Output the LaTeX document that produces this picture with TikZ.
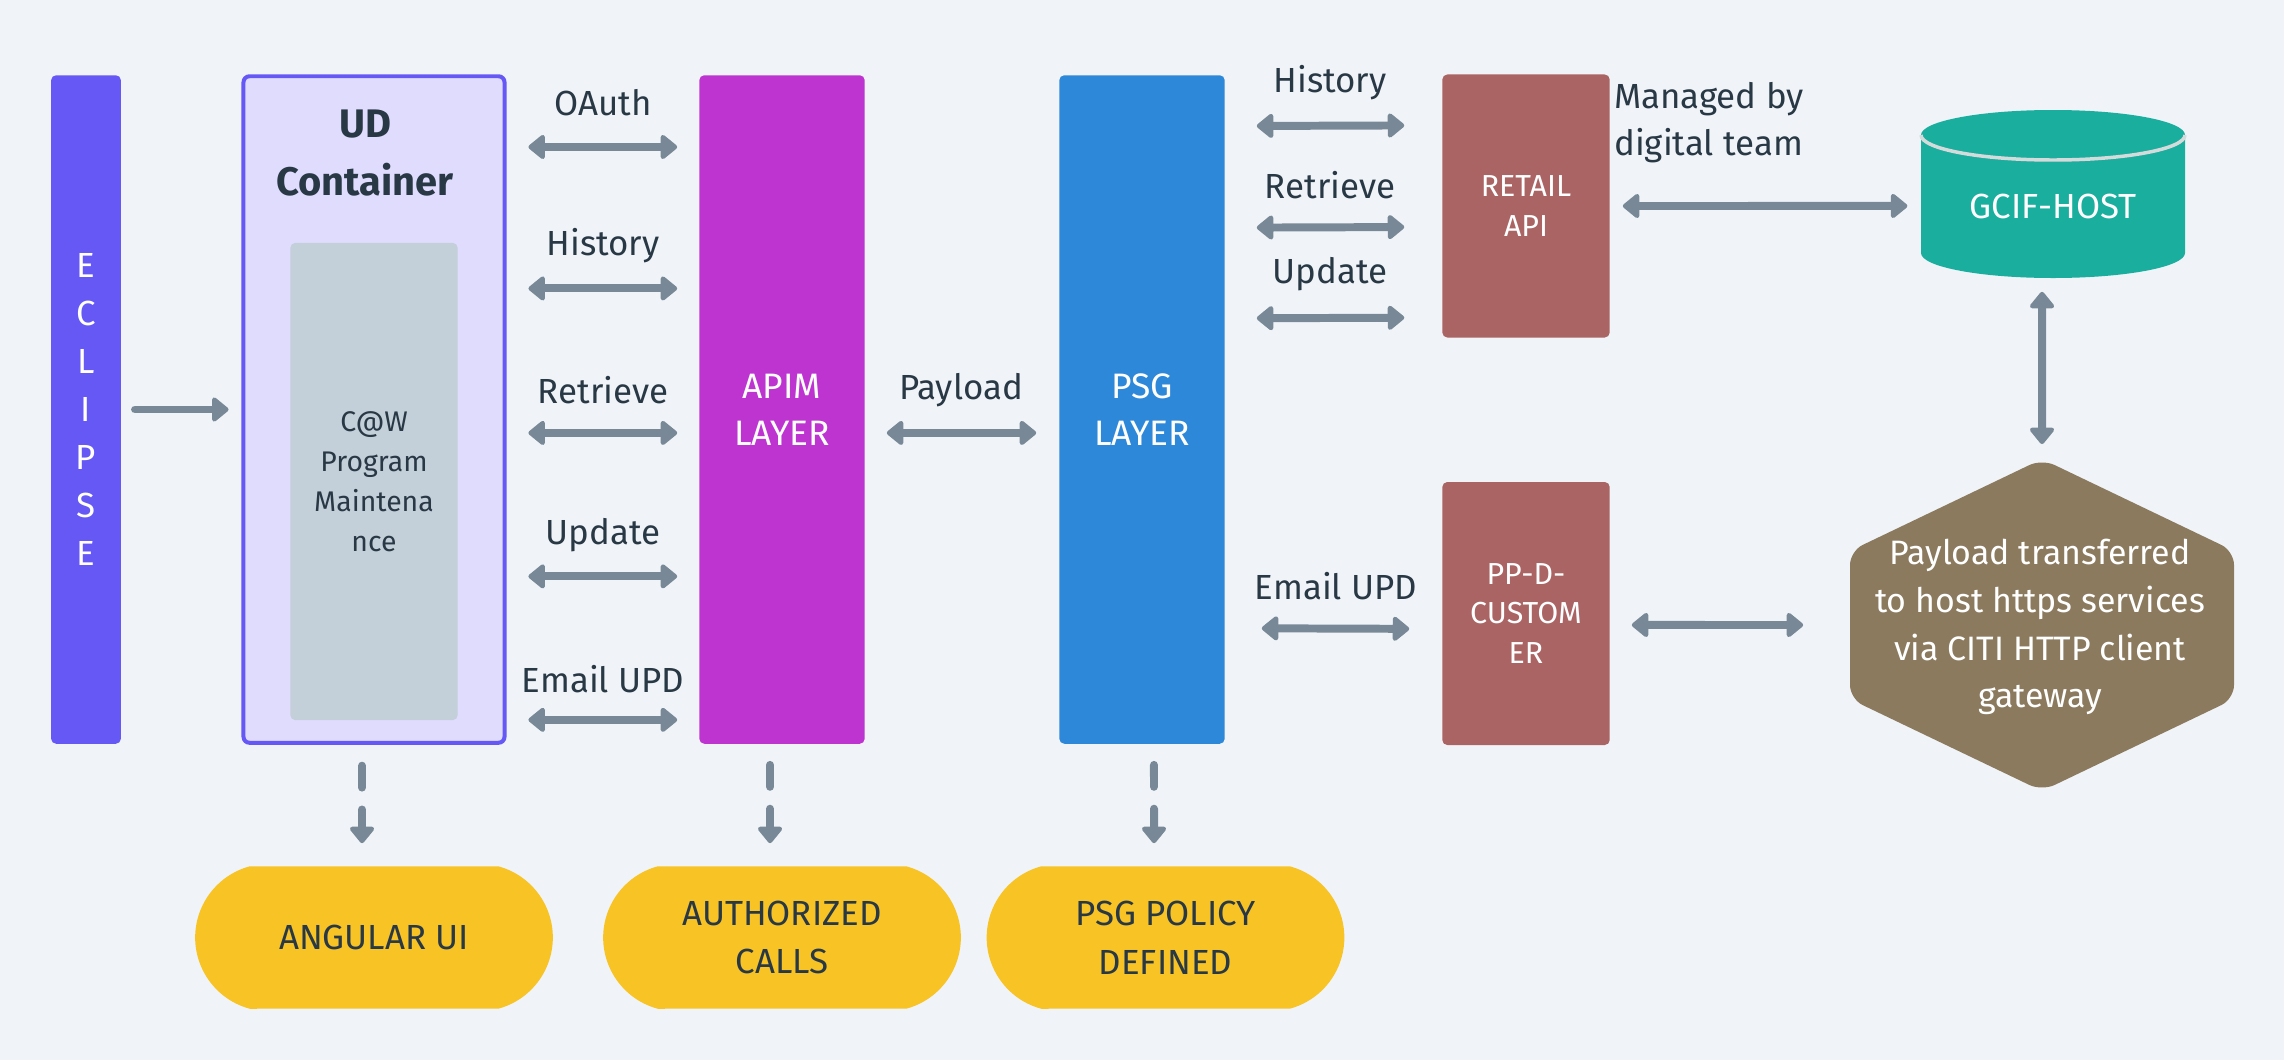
\documentclass[tikz,border=0pt]{standalone}
\usepackage{fontspec}
\setmainfont{Fira Sans}
\usetikzlibrary{arrows.meta,shapes.misc}
\definecolor{bgcol}{HTML}{F0F4F8}
\definecolor{eclcol}{HTML}{6558F5}
\definecolor{udfill}{HTML}{E0DCFD}
\definecolor{innercol}{HTML}{C3CFD9}
\definecolor{apimcol}{HTML}{BD34D1}
\definecolor{psgcol}{HTML}{2D88D9}
\definecolor{redcol}{HTML}{AA6464}
\definecolor{gcifcol}{HTML}{1AAE9F}
\definecolor{cylline}{HTML}{D5DBDB}
\definecolor{hexcol}{HTML}{8B7A5E}
\definecolor{yelcol}{HTML}{F7C325}
\definecolor{arrcol}{HTML}{788896}
\definecolor{txtcol}{HTML}{293845}
\tikzset{
  tallbox/.style={rectangle, rounded corners=5, inner sep=0, minimum width=166, minimum height=671, text=white, align=center, font=\fontsize{35.5}{47}\selectfont},
  redbox/.style={rectangle, rounded corners=5, inner sep=0, fill=redcol, minimum width=168, minimum height=264, text=white, align=center, font=\fontsize{30.5}{40}\selectfont},
  lbl/.style={text=txtcol, align=center, inner sep=0, font=\fontsize{35}{47}\selectfont},
  pill/.style={rounded rectangle, rounded rectangle arc length=150, fill=yelcol, minimum width=359, minimum height=143, inner sep=0, text=txtcol, align=center, font=\fontsize{35}{49}\selectfont},
  darr/.style={draw=arrcol, line width=8, {Triangle[length=18,width=28,round]}-{Triangle[length=18,width=28,round]}},
  sarr/.style={draw=arrcol, line width=8, line cap=round, -{Triangle[length=18,width=28,round]}},
  dasharr/.style={draw=arrcol, line width=8, line cap=round, dash pattern=on 22 off 22 on 200, -{Triangle[length=18,width=28,round]}},
}
\begin{document}
\begin{tikzpicture}[x=1bp,y=-1bp]
\fill[bgcol] (0,0) rectangle (2284,1060);
\useasboundingbox (0,0) rectangle (2284,1060);

% tall boxes
\node[tallbox, fill=eclcol, minimum width=70] (ecl) at (86,409.5) {};
\node[text=white, align=center, inner sep=0, font=\fontsize{35}{48.2}\selectfont] (ecltext) at (86,409.5) {E\\C\\L\\I\\P\\S\\E};
\node[rectangle, rounded corners=6, draw=eclcol, line width=4, fill=udfill, minimum width=262, minimum height=669, inner sep=0] (ud) at (374,409.5) {};
\node[text=txtcol, align=center, inner sep=0, font=\bfseries\fontsize{40}{58}\selectfont] (udtitle) at (365,153) {UD\\Container};
\node[rectangle, rounded corners=5, fill=innercol, minimum width=168, minimum height=479, inner sep=0, text=txtcol, align=center, font=\fontsize{28.5}{40}\selectfont] (cow) at (374,481.5) {C@W\\Program\\Maintena\\nce};
\node[tallbox, fill=apimcol] (apim) at (782,409.5) {APIM\\LAYER};
\node[tallbox, fill=psgcol] (psg) at (1142,409.5) {PSG\\LAYER};
\node[redbox] (retail) at (1526,206) {RETAIL\\API};
\node[redbox] (ppd) at (1526,613.5) {PP-D-\\CUSTOM\\ER};

% cylinder
\node[minimum width=264, minimum height=168, inner sep=0] (gcif) at (2053,194) {};
\fill[gcifcol] (1921,135) arc[start angle=180,end angle=360,x radius=132,y radius=25] -- (2185,253) arc[start angle=0,end angle=180,x radius=132,y radius=25] -- cycle;
\draw[cylline, line width=3.5] (1921,135) arc[start angle=180,end angle=0,x radius=132,y radius=25];
\node[text=white, inner sep=0, font=\fontsize{35}{42}\selectfont] (gciftext) at (2053,206) {GCIF-HOST};

% hexagon
\coordinate (hexN) at (2042,459);
\coordinate (hexNE) at (2234,551);
\coordinate (hexSE) at (2234,699);
\coordinate (hexS) at (2042,791);
\coordinate (hexSW) at (1850,699);
\coordinate (hexNW) at (1850,551);
\coordinate (hexW) at (1850,625);
\fill[hexcol, rounded corners=14] (1946,505) -- (hexN) -- (hexNE) -- (hexSE) -- (hexS) -- (hexSW) -- (hexNW) -- cycle;
\node[text=white, align=center, inner sep=0, font=\fontsize{34}{48}\selectfont] (hex) at (2040,627) {Payload transferred\\to host https services\\via CITI HTTP client\\gateway};

% pills
\node[pill] (ang) at (374,937.5) {ANGULAR UI};
\node[pill] (auth) at (782,937.5) {AUTHORIZED\\CALLS};
\node[pill] (pol) at (1165.5,937.5) {PSG POLICY\\DEFINED};

% labels
\node[lbl] (l1) at (603,103) {OAuth};
\node[lbl] (l2) at (603,246) {History};
\node[lbl] (l3) at (603,390) {Retrieve};
\node[lbl] (l4) at (603,535) {Update};
\node[lbl] (l5) at (603,679) {Email UPD};
\node[lbl] (l6) at (961,390) {Payload};
\node[lbl] (l7) at (1330,83) {History};
\node[lbl] (l8) at (1330,185) {Retrieve};
\node[lbl] (l9) at (1330,274) {Update};
\node[lbl] (l10) at (1336,586) {Email UPD};
\node[lbl, align=left, anchor=west] (l11) at (1614,122.5) {Managed by\\digital team};

% connectors
\draw[sarr, shorten <=14, shorten >=13] (ecl.east) -- (ud.west);
\draw[darr, shorten <=22, shorten >=22] ([yshift=263.5]ud.east) -- ([yshift=263.5]apim.west);
\draw[darr, shorten <=22, shorten >=22] ([yshift=121.5]ud.east) -- ([yshift=121.5]apim.west);
\draw[darr, shorten <=22, shorten >=22] ([yshift=-23.5]ud.east) -- ([yshift=-23.5]apim.west);
\draw[darr, shorten <=22, shorten >=22] ([yshift=-167.5]ud.east) -- ([yshift=-167.5]apim.west);
\draw[darr, shorten <=22, shorten >=22] ([yshift=-311.5]ud.east) -- ([yshift=-311.5]apim.west);
\draw[darr, shorten <=22, shorten >=23] ([yshift=-23.5]apim.east) -- ([yshift=-23.5]psg.west);
\draw[darr, shorten <=32, shorten >=38] ([yshift=284.5]psg.east) -- ([yshift=81]retail.west);
\draw[darr, shorten <=32, shorten >=38] ([yshift=182.5]psg.east) -- ([yshift=-21]retail.west);
\draw[darr, shorten <=32, shorten >=38] ([yshift=91.5]psg.east) -- ([yshift=-112]retail.west);
\draw[darr, shorten <=37, shorten >=33] ([yshift=-219.5]psg.east) -- ([yshift=-15.5]ppd.west);
\draw[darr, shorten <=13, shorten >=14] (retail.east) -- ([yshift=-12]gcif.west);
\draw[darr, shorten <=14, shorten >=15] ([xshift=-11]gcif.south) -- (hexN);
\draw[darr, shorten <=22, shorten >=47] ([yshift=-11.5]ppd.east) -- (hexW);
\draw[dasharr] ([xshift=-12,yshift=-21]ud.south) -- ([xshift=-12,yshift=23]ang.north);
\draw[dasharr] ([xshift=-12,yshift=-21]apim.south) -- ([xshift=-12,yshift=23]auth.north);
\draw[dasharr] ([xshift=12,yshift=-21]psg.south) -- ([xshift=-11.5,yshift=23]pol.north);
\end{tikzpicture}
\end{document}
